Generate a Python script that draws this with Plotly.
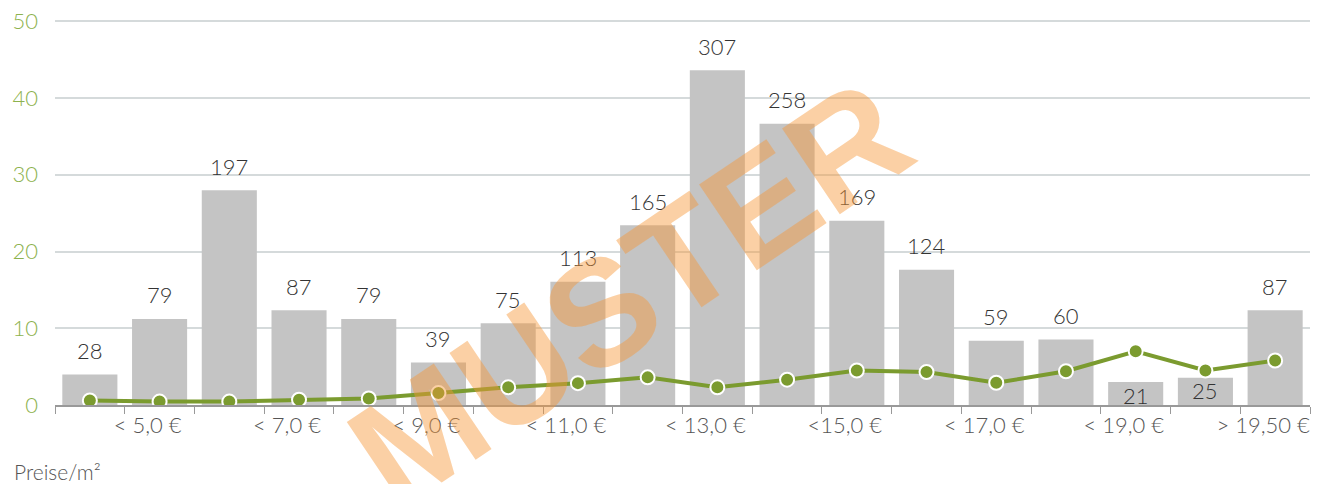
import plotly.graph_objects as go

# price classes (only every second one is labelled in the chart)
categories = ["< 4,0 €", "< 5,0 €", "< 6,0 €", "< 7,0 €", "< 8,0 €", "< 9,0 €",
              "< 10,0 €", "< 11,0 €", "< 12,0 €", "< 13,0 €", "< 14,0 €", "<15,0 €",
              "< 16,0 €", "< 17,0 €", "< 18,0 €", "< 19,0 €", "< 19,50 €", "> 19,50 €"]
shown_labels = ["", "< 5,0 €", "", "< 7,0 €", "", "< 9,0 €", "", "< 11,0 €", "",
                "< 13,0 €", "", "<15,0 €", "", "< 17,0 €", "", "< 19,0 €", "", "> 19,50 €"]

# number of offers per class (grey bars)
counts = [28, 79, 197, 87, 79, 39, 75, 113, 165, 307, 258, 169, 124, 59, 60, 21, 25, 87]

# green line (left axis)
line_values = [0.6, 0.45, 0.45, 0.7, 0.85, 1.55, 2.3, 2.85, 3.6, 2.3, 3.3, 4.5,
               4.3, 2.9, 4.4, 7.0, 4.5, 5.8]

# labels that sit inside the bar instead of above it
label_inside = [False] * 15 + [True, True, False]

FONT = "Lato"
GREEN = "#7b9b2f"
TICK_GREEN = "#8db24e"

fig = go.Figure()

# bars on the hidden count axis (y), line on the visible left axis (y2) so it is drawn on top
fig.add_trace(go.Bar(
    x=categories, y=counts, yaxis="y",
    marker=dict(color="#c4c4c4", line=dict(width=0)),
    hoverinfo="skip", showlegend=False,
))

fig.add_trace(go.Scatter(
    x=categories, y=line_values, yaxis="y2", mode="lines+markers",
    line=dict(color=GREEN, width=4),
    marker=dict(size=14, color=GREEN, line=dict(color="white", width=2)),
    showlegend=False,
))

for cat, n, inside in zip(categories, counts, label_inside):
    fig.add_annotation(
        x=cat, y=n, xref="x", yref="y", text=str(n), showarrow=False,
        yanchor="middle", yshift=-13 if inside else 24,
        font=dict(family=FONT, size=22, weight=300, color="#333333"),
    )

fig.add_annotation(
    x=-0.034, y=-0.172, xref="paper", yref="paper", xanchor="left", yanchor="middle",
    text="Preise/m²", showarrow=False,
    font=dict(family=FONT, size=21, weight=300, color="#555555"),
)

# watermark
fig.add_annotation(
    x=0.458, y=0.29, xref="paper", yref="paper", xanchor="center", yanchor="middle",
    text="MUSTER", showarrow=False, textangle=-34,
    font=dict(family="Liberation Sans", size=150, weight="bold", color="rgba(247,150,55,0.45)"),
)

# the page body adds 8 px around the figure, margins are reduced to compensate
fig.update_layout(
    width=1332, height=484,
    margin=dict(l=47, r=30, t=11, b=87),
    paper_bgcolor="white", plot_bgcolor="white",
    bargap=0.21,
    font=dict(family=FONT),
    xaxis=dict(
        type="category", range=[-0.5, len(categories) - 0.5],
        tickmode="array", tickvals=categories, ticktext=shown_labels,
        tickson="boundaries", ticks="outside", ticklen=7, tickcolor="#999999",
        showline=True, linecolor="#999999", linewidth=2,
        showgrid=False, tickangle=0, automargin=False,
        tickfont=dict(family=FONT, size=22, weight=300, color="#555555"),
        ticklabelshift=-12,
    ),
    yaxis=dict(
        range=[0, 354.1], visible=False, showgrid=False, automargin=False,
    ),
    yaxis2=dict(
        range=[0, 50.3], tickmode="array", tickvals=[0, 10, 20, 30, 40, 50],
        overlaying="y", side="left",
        showgrid=True, gridcolor="#d5dadb", gridwidth=2,
        zeroline=False, showline=False, automargin=False,
        tickfont=dict(family=FONT, size=22, weight=300, color=TICK_GREEN),
        ticklabelstandoff=16, ticklabeloverflow="allow",
    ),
)

fig.write_html("out.html")
